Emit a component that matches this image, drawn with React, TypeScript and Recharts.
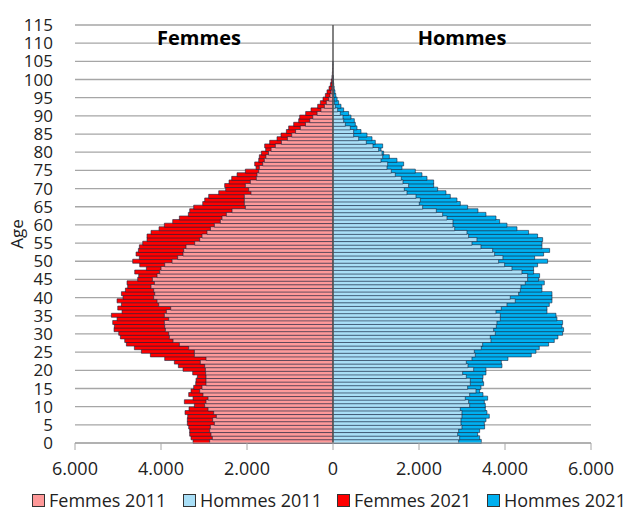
import React from 'react';
import { BarChart, Bar, XAxis, YAxis, CartesianGrid, ReferenceLine, Label } from 'recharts';

const ages = [
  0, 1, 2, 3, 4, 5, 6, 7, 8, 9, 10, 11, 12, 13, 14, 15, 16, 17, 18, 19,
  20, 21, 22, 23, 24, 25, 26, 27, 28, 29, 30, 31, 32, 33, 34, 35, 36, 37, 38, 39,
  40, 41, 42, 43, 44, 45, 46, 47, 48, 49, 50, 51, 52, 53, 54, 55, 56, 57, 58, 59,
  60, 61, 62, 63, 64, 65, 66, 67, 68, 69, 70, 71, 72, 73, 74, 75, 76, 77, 78, 79,
  80, 81, 82, 83, 84, 85, 86, 87, 88, 89, 90, 91, 92, 93, 94, 95, 96, 97, 98, 99,
  100, 101, 102, 103, 104, 105, 106, 107, 108, 109, 110, 111, 112, 113, 114, 115,
];

const femmes2011 = [
  2868, 2806, 2837, 2868, 2852, 2759, 2798, 2713, 2775, 2906,
  2984, 2953, 2906, 3023, 3100, 3046, 2953, 2953, 2953, 2961,
  2968, 2984, 3085, 2953, 3224, 3224, 3356, 3573, 3720, 3805,
  3821, 3898, 3914, 3922, 3821, 3922, 3875, 3774, 4053, 4092,
  4170, 4146, 4170, 4232, 4154, 4200, 4092, 4030, 3999, 3914,
  3743, 3612, 3488, 3472, 3418, 3216, 3100, 3046, 2930, 2850,
  2759, 2620, 2581, 2480, 2348, 2038, 2062, 2062, 2062, 1907,
  1961, 2038, 1922, 1783, 1767, 1728, 1713, 1635, 1597, 1560,
  1500, 1440, 1341, 1200, 1060, 960, 870, 760, 640, 540,
  470, 370, 280, 200, 155, 100, 70, 45, 30, 18,
  10, 5, 0, 0, 0, 0, 0, 0, 0, 0, 0, 0, 0, 0, 0, 0,
];

const hommes2011 = [
  2922, 2945, 2899, 2922, 2999, 2976, 2976, 2999, 2999, 2961,
  3178, 3154, 3077, 3178, 3325, 3131, 3193, 3193, 3100, 3015,
  3271, 3139, 3100, 3232, 3309, 3286, 3449, 3480, 3674, 3658,
  3774, 3736, 3798, 3813, 3891, 3891, 3790, 3914, 4046, 4239,
  4123, 4317, 4356, 4371, 4472, 4526, 4526, 4394, 4162, 3991,
  3852, 3952, 3759, 3712, 3441, 3232, 3348, 3154, 3116, 2830,
  2790, 2790, 2651, 2550, 2403, 2085, 2007, 2031, 1930, 1721,
  1659, 1759, 1628, 1589, 1449, 1356, 1256, 1271, 1116, 1155,
  1140, 1062, 930, 775, 597, 480, 480, 403, 287, 248,
  232, 170, 108, 54, 31, 25, 15, 10, 5, 3,
  2, 0, 0, 0, 0, 0, 0, 0, 0, 0, 0, 0, 0, 0, 0, 0,
];

const femmes2021 = [
  3255, 3302, 3333, 3333, 3356, 3387, 3387, 3379, 3441, 3348,
  3224, 3457, 3255, 3356, 3302, 3240, 3193, 3185, 3154, 3263,
  3488, 3596, 3689, 3914, 4247, 4456, 4619, 4805, 4844, 4945,
  4983, 5092, 5084, 5123, 5022, 5154, 4906, 5006, 4921, 5022,
  4883, 4921, 4828, 4774, 4790, 4542, 4518, 4611, 4340, 4495,
  4658, 4503, 4580, 4526, 4503, 4425, 4325, 4325, 4232, 4046,
  3922, 3728, 3573, 3364, 3333, 3240, 3030, 2984, 2891, 2658,
  2496, 2519, 2418, 2356, 2232, 2038, 1790, 1821, 1728, 1713,
  1666, 1566, 1589, 1473, 1302, 1209, 1085, 1031, 915, 798,
  775, 636, 512, 357, 295, 232, 178, 140, 93, 60,
  40, 25, 15, 8, 4, 2, 0, 0, 0, 0, 0, 0, 0, 0, 0, 0,
];

const hommes2021 = [
  3449, 3410, 3364, 3410, 3526, 3519, 3557, 3635, 3580, 3542,
  3542, 3519, 3596, 3488, 3410, 3441, 3503, 3480, 3488, 3557,
  3557, 3929, 3914, 4069, 4611, 4720, 4797, 5014, 5146, 5231,
  5340, 5363, 5324, 5340, 5208, 5185, 4976, 4976, 5030, 5092,
  5092, 5092, 4859, 4859, 4914, 4782, 4805, 4665, 4665, 4758,
  4991, 4689, 4898, 5038, 4859, 4859, 4875, 4758, 4549, 4278,
  4046, 3875, 3790, 3557, 3371, 3131, 2961, 2883, 2728, 2627,
  2434, 2341, 2341, 2186, 2069, 1914, 1604, 1643, 1488, 1310,
  1178, 1116, 1155, 984, 907, 791, 651, 558, 519, 496,
  419, 364, 248, 186, 132, 95, 65, 45, 28, 17,
  10, 5, 0, 0, 0, 0, 0, 0, 0, 0, 0, 0, 0, 0, 0, 0,
];

const xTicks = [-6000, -4000, -2000, 0, 2000, 4000, 6000];
const yTicks = [0, 5, 10, 15, 20, 25, 30, 35, 40, 45, 50, 55, 60, 65, 70, 75, 80, 85, 90, 95, 100, 105, 110, 115];

const seriesNames = ['Femmes 2011', 'Hommes 2011', 'Femmes 2021', 'Hommes 2021'];
const seriesColors = ['#FF9999', '#A9DFF7', '#FF0000', '#00B0F0'];

const data = ages.map((age, i) => ({
  age,
  f2011: -femmes2011[i],
  h2011: hommes2011[i],
  f2021: -femmes2021[i],
  h2021: hommes2021[i],
}));

const fmt = (v: number) => String(Math.abs(v)).replace(/\B(?=(\d{3})+(?!\d))/g, '.');

const BAR_STROKE = '#14213D';
const TEXT = '#222222';
const legendLeft = [32, 183, 337, 487];

export default function App() {
  return (
    <div
      style={{
        position: 'absolute',
        left: 0,
        top: 0,
        width: 625,
        height: 510,
        background: '#fff',
        fontFamily: '"Open Sans", sans-serif',
        overflow: 'hidden',
      }}
    >
      <BarChart
        width={625}
        height={510}
        data={data}
        layout="vertical"
        margin={{ top: 25, right: 34, bottom: 37, left: 0 }}
        barCategoryGap={0}
        barGap={0}
      >
        <CartesianGrid yAxisId="num" vertical={false} stroke="#A6A6A6" strokeWidth={1.3} />
        <XAxis
          type="number"
          domain={[-6000, 6000]}
          ticks={xTicks}
          tickFormatter={fmt}
          allowDataOverflow
          height={30}
          stroke="#A6A6A6"
          tickSize={7}
          tickMargin={12}
          interval={0}
          tick={{ fontSize: 18, fill: TEXT }}
        />
        <YAxis yAxisId="c1" type="category" dataKey="age" reversed hide width={0} />
        <YAxis yAxisId="c2" type="category" dataKey="age" reversed hide width={0} />
        <YAxis yAxisId="c3" type="category" dataKey="age" reversed hide width={0} />
        <YAxis yAxisId="c4" type="category" dataKey="age" reversed hide width={0} />
        <YAxis
          yAxisId="num"
          type="number"
          domain={[0, 115]}
          ticks={yTicks}
          reversed
          allowDataOverflow
          width={75}
          axisLine={false}
          tickLine={false}
          tickSize={0}
          tickMargin={22}
          interval={0}
          tick={{ fontSize: 17, fill: TEXT }}
        >
          <Label
            content={() => (
              <text x={23} y={234} transform="rotate(-90 23 234)" textAnchor="middle" fontSize={17} fill={TEXT}>
                Age
              </text>
            )}
          />
          <Label
            content={() => (
              <g>
                <text x={199} y={45} textAnchor="middle" fontSize={20} fontWeight="bold" fill="#000">
                  Femmes
                </text>
                <text x={462} y={45} textAnchor="middle" fontSize={20} fontWeight="bold" fill="#000">
                  Hommes
                </text>
              </g>
            )}
          />
        </YAxis>
        <Bar yAxisId="c1" dataKey="f2021" name={seriesNames[2]} fill={seriesColors[2]} stroke={BAR_STROKE} strokeWidth={0.6} isAnimationActive={false} />
        <Bar yAxisId="c2" dataKey="h2021" name={seriesNames[3]} fill={seriesColors[3]} stroke={BAR_STROKE} strokeWidth={0.6} isAnimationActive={false} />
        <Bar yAxisId="c3" dataKey="f2011" name={seriesNames[0]} fill={seriesColors[0]} stroke={BAR_STROKE} strokeWidth={0.6} isAnimationActive={false} />
        <Bar yAxisId="c4" dataKey="h2011" name={seriesNames[1]} fill={seriesColors[1]} stroke={BAR_STROKE} strokeWidth={0.6} isAnimationActive={false} />
        <ReferenceLine yAxisId="num" x={0} stroke="#595959" strokeWidth={1.5} />
      </BarChart>
      <div style={{ position: 'absolute', top: 490, left: 0, width: 625, height: 20, fontSize: 18, lineHeight: '20px', color: TEXT }}>
        {seriesNames.map((name, i) => (
          <div
            key={name}
            style={{ position: 'absolute', left: legendLeft[i], top: 0, height: 20, display: 'flex', alignItems: 'center', whiteSpace: 'nowrap' }}
          >
            <span
              style={{
                display: 'inline-block',
                width: 11,
                height: 11,
                background: seriesColors[i],
                border: '1px solid #333',
                marginRight: 4,
              }}
            />
            <span>{name}</span>
          </div>
        ))}
      </div>
    </div>
  );
}
